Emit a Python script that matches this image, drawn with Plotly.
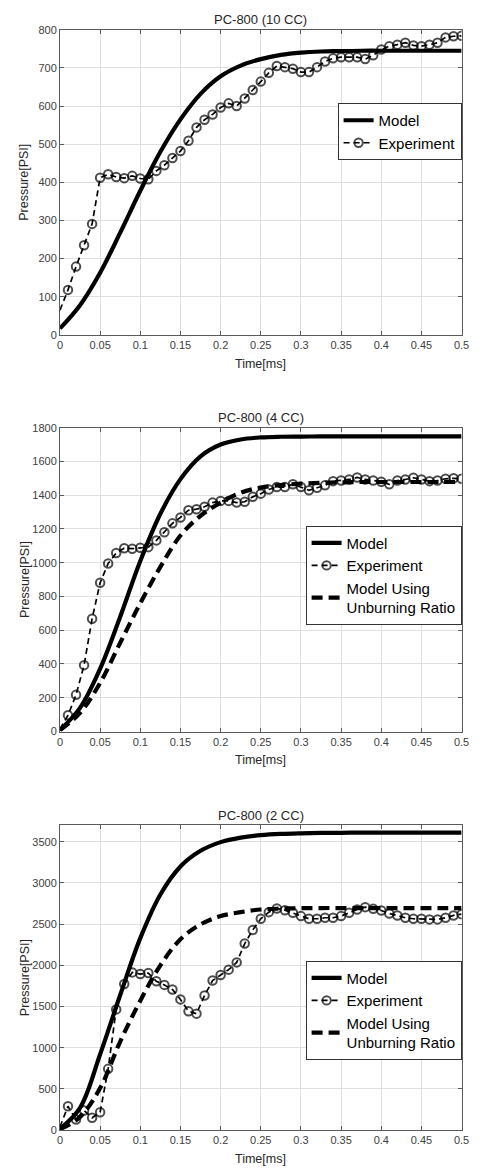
import plotly.graph_objects as go

# ---------------- data ----------------
t_exp = [0.0, 0.01, 0.02, 0.03, 0.04, 0.05, 0.06, 0.07, 0.08, 0.09,
         0.10, 0.11, 0.12, 0.13, 0.14, 0.15, 0.16, 0.17, 0.18, 0.19,
         0.20, 0.21, 0.22, 0.23, 0.24, 0.25, 0.26, 0.27, 0.28, 0.29,
         0.30, 0.31, 0.32, 0.33, 0.34, 0.35, 0.36, 0.37, 0.38, 0.39,
         0.40, 0.41, 0.42, 0.43, 0.44, 0.45, 0.46, 0.47, 0.48, 0.49, 0.50]

t_model = [0.0, 0.025, 0.05, 0.075, 0.1, 0.125, 0.15, 0.175, 0.2, 0.225,
           0.25, 0.275, 0.3, 0.325, 0.35, 0.375, 0.4, 0.425, 0.45, 0.475, 0.5]

# PC-800 (10 CC)
exp_10 = [65, 118, 179, 235, 291, 412, 421, 414, 411, 417,
          410, 408, 430, 445, 464, 482, 509, 544, 564, 578,
          596, 607, 600, 620, 642, 664, 687, 705, 702, 698,
          689, 689, 702, 717, 725, 728, 728, 728, 723, 733,
          748, 757, 761, 766, 759, 757, 761, 766, 780, 783, 784]
model_10 = [17, 78, 163, 268, 378, 480, 565, 632, 678, 706,
            723, 734, 740, 743, 744, 745, 745, 745, 745, 745, 745]

# PC-800 (4 CC)
exp_4 = [15, 96, 217, 393, 668, 881, 995, 1057, 1086, 1083,
         1088, 1092, 1132, 1180, 1233, 1268, 1311, 1317, 1331, 1356,
         1366, 1366, 1356, 1361, 1390, 1409, 1434, 1448, 1448, 1465,
         1448, 1429, 1444, 1458, 1483, 1487, 1493, 1505, 1493, 1487,
         1479, 1464, 1487, 1493, 1503, 1493, 1483, 1487, 1497, 1500, 1497]
model_4 = [8, 140, 372, 680, 1010, 1290, 1495, 1630, 1700, 1730,
           1742, 1746, 1747, 1748, 1748, 1748, 1748, 1748, 1748, 1748, 1748]
unburn_4 = [8, 110, 288, 526, 760, 975, 1161, 1278, 1356, 1415,
            1445, 1460, 1468, 1473, 1476, 1478, 1478, 1478, 1478, 1478, 1478]

# PC-800 (2 CC)
exp_2 = [40, 289, 129, 237, 149, 217, 743, 1465, 1774, 1914,
         1894, 1906, 1806, 1762, 1706, 1586, 1441, 1413, 1634, 1815,
         1883, 1947, 2035, 2264, 2429, 2565, 2645, 2690, 2669, 2637,
         2597, 2565, 2565, 2577, 2577, 2597, 2637, 2677, 2706, 2686,
         2665, 2629, 2605, 2577, 2565, 2565, 2557, 2557, 2577, 2605, 2621]
model_2 = [15, 270, 920, 1640, 2330, 2860, 3200, 3390, 3495, 3550,
           3580, 3595, 3602, 3606, 3608, 3610, 3610, 3610, 3610, 3610, 3610]
unburn_2 = [10, 160, 510, 1075, 1570, 2000, 2316, 2497, 2597, 2645,
            2677, 2688, 2693, 2695, 2695, 2695, 2695, 2695, 2695, 2695, 2695]

titles = ["PC-800 (10 CC)", "PC-800 (4 CC)", "PC-800 (2 CC)"]
y_ranges = [[0, 800], [0, 1800], [0, 3700]]
y_dticks = [100, 200, 500]
legend_names = ["Model", "Experiment", "Model Using<br>Unburning Ratio"]

# ---------------- layout geometry (pixels) ----------------
W, H = 482, 1173
x_left, x_right = 58.3, 469.3
plot_tops = [24, 426, 827.7]
plot_bottoms = [332.3, 733, 1135.7]
legend_tops = [98, 525, 964.5]

FONT = "Liberation Sans, Arial, sans-serif"
TXT = "#262626"
TICK = "#404040"

def py(p):
    return (H - p) / H

fig = go.Figure()

series = [
    (exp_10, model_10, None),
    (exp_4, model_4, unburn_4),
    (exp_2, model_2, unburn_2),
]

for i, (ex, mo, un) in enumerate(series):
    k = "" if i == 0 else str(i + 1)
    xa, ya = "x" + k, "y" + k
    lg = "legend" + k
    fig.add_trace(go.Scatter(
        x=t_model, y=mo, mode="lines", name=legend_names[0],
        line=dict(color="black", width=4.2, shape="spline", smoothing=1.0),
        xaxis=xa, yaxis=ya, legend=lg))
    fig.add_trace(go.Scatter(
        x=t_exp, y=ex, mode="lines+markers", name=legend_names[1],
        line=dict(color="black", width=1.7, dash="6px,4px"),
        marker=dict(symbol="circle-open", size=[0] + [8.5] * (len(ex) - 1),
                    color="black", line=dict(width=2, color="black")),
        xaxis=xa, yaxis=ya, legend=lg))
    if un is not None:
        fig.add_trace(go.Scatter(
            x=t_model, y=un, mode="lines", name=legend_names[2],
            line=dict(color="black", width=4.2, dash="11px,6px",
                      shape="spline", smoothing=1.0),
            xaxis=xa, yaxis=ya, legend=lg))

layout = dict(
    width=W, height=H,
    margin=dict(l=0, r=0, t=0, b=0),
    paper_bgcolor="white", plot_bgcolor="white",
    font=dict(family=FONT, color=TICK, size=11),
    annotations=[],
)

axis_common = dict(
    showgrid=True, gridcolor="#dfdfdf", gridwidth=1,
    showline=True, linecolor="#5a5a5a", linewidth=1, mirror="ticks",
    ticks="inside", ticklen=4, tickcolor="#5a5a5a", tickwidth=1,
    zeroline=False,
    tickfont=dict(family=FONT, size=11, color=TICK),
)

for i in range(3):
    k = "" if i == 0 else str(i + 1)
    ydom = [py(plot_bottoms[i]), py(plot_tops[i])]
    layout["xaxis" + k] = dict(
        axis_common, domain=[x_left / W, x_right / W], range=[0, 0.5],
        tickmode="linear", tick0=0, dtick=0.05, anchor="y" + k)
    layout["yaxis" + k] = dict(
        axis_common, domain=ydom, range=y_ranges[i],
        tickmode="linear", tick0=0, dtick=y_dticks[i], anchor="x" + k)
    layout["legend" + k] = dict(
        x=x_right / W, xanchor="right", y=py(legend_tops[i]), yanchor="top",
        xref="paper", yref="paper",
        bgcolor="white", bordercolor="#333333", borderwidth=1,
        font=dict(family=FONT, size=15, color="black"),
        tracegroupgap=0, itemwidth=30)
    cx = (x_left + x_right) / 2 / W
    layout["annotations"].append(dict(
        text=titles[i], x=cx, y=py(plot_tops[i] - 10), xref="paper", yref="paper",
        xanchor="center", yanchor="middle", showarrow=False,
        font=dict(family=FONT, size=13, color=TXT)))
    layout["annotations"].append(dict(
        text="Time[ms]", x=cx, y=py(plot_bottoms[i] + 29), xref="paper", yref="paper",
        xanchor="center", yanchor="middle", showarrow=False,
        font=dict(family=FONT, size=12.5, color=TXT)))
    layout["annotations"].append(dict(
        text="Pressure[PSI]", x=22 / W, y=(ydom[0] + ydom[1]) / 2,
        xref="paper", yref="paper", textangle=-90,
        xanchor="center", yanchor="middle", showarrow=False,
        font=dict(family=FONT, size=12.5, color=TXT)))

fig.update_layout(**layout)
fig.write_html(
    "out.html",
    config={"displayModeBar": False},
    post_script="document.body.style.margin='0';document.body.style.overflow='hidden';",
)
